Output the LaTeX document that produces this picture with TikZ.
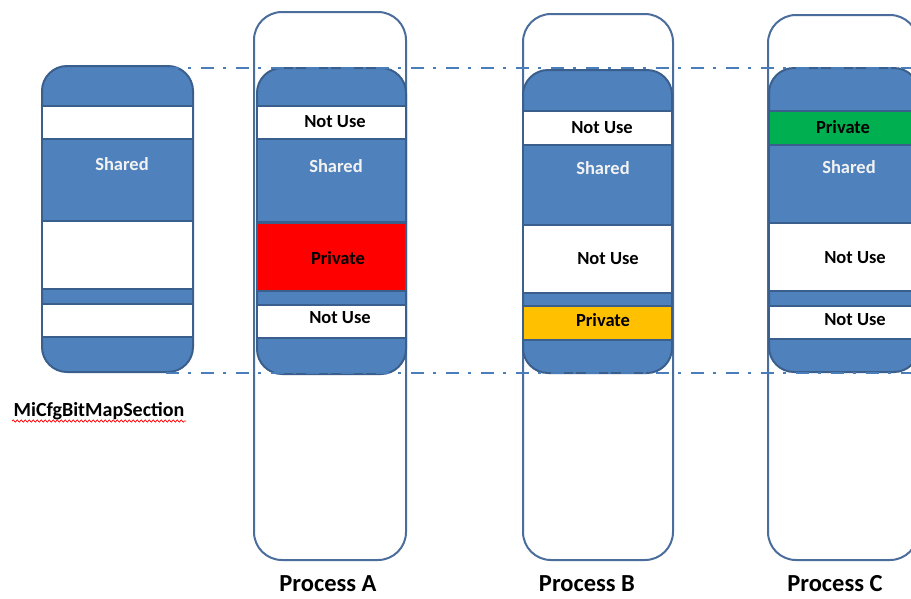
\documentclass[tikz,border=0pt]{standalone}
\usepackage{fontspec}
\setmainfont{Carlito}
\usetikzlibrary{decorations.pathmorphing}
\definecolor{memblue}{HTML}{4F81BD}
\definecolor{memedge}{HTML}{3B5F8D}
\definecolor{procedge}{HTML}{4A6D9C}
\definecolor{dashblue}{HTML}{4A7EBB}
\definecolor{privred}{HTML}{FF0000}
\definecolor{privorange}{HTML}{FFC000}
\definecolor{privgreen}{HTML}{00B050}
\definecolor{sharedtxt}{HTML}{F2F2F2}
\newcommand\rbox[6][]{\node[#2,#1,inner sep=0pt,outer sep=0pt,
  minimum width={(#5-#3)*1pt},minimum height={(#6-#4)*1pt}]
  at ({(#3+#5)/2},{(#4+#6)/2}) {};}
\begin{document}
\begin{tikzpicture}[x=1pt,y=-1pt,
  procbox/.style={draw=procedge,line width=2pt,rounded corners=28pt,fill=white},
  membox/.style={draw=memedge,line width=2pt,fill=memblue,rounded corners=25pt},
  band/.style={draw=memedge,line width=1.8pt},
  lbl/.style={font=\bfseries\fontsize{18.5}{20}\selectfont,inner sep=0pt},
  sharedlbl/.style={lbl,text=sharedtxt},
  title/.style={font=\bfseries\fontsize{24.5}{27}\selectfont,inner sep=0pt,anchor=base,text depth=0pt},
  guide/.style={draw=dashblue,line width=2.4pt,dash pattern=on 13pt off 9pt on 3pt off 10pt}]
\useasboundingbox (0,0) rectangle (911,598);
\clip (0,0) rectangle (911,598);
% ---------- MiCfgBitMapSection ----------
\rbox[name=S]{membox}{42}{66}{193}{372}
\rbox[name=Sw1]{band,fill=white}{42}{106}{193}{139}
\rbox[name=Ssh]{band,fill=memblue}{42}{139}{193}{221}
\rbox[name=Sw2]{band,fill=white}{42}{221}{193}{289}
\rbox[name=Sw3]{band,fill=white}{42}{304}{193}{337}
\node[sharedlbl] (Sshl) at (122,164) {Shared};
\node[font=\bfseries\fontsize{20}{22}\selectfont,inner sep=0pt] (Sname) at (99,411) {MiCfgBitMapSection};
\coordinate (wl) at (12,421);
\coordinate (wr) at (186,421);
\draw[red,line width=0.7pt,decorate,decoration={snake,amplitude=1.1pt,segment length=4pt}] (wl) -- (wr);
% ---------- Process A ----------
\rbox[name=PA]{procbox}{254}{12}{406}{560}
\rbox[name=A]{membox}{257}{68}{406}{374}
\rbox[name=Aw1]{band,fill=white}{257}{106}{406}{139}
\rbox[name=Ash]{band,fill=memblue}{257}{139}{406}{222}
\rbox[name=Apr]{band,fill=privred}{257}{223}{406}{291}
\rbox[name=Aw2]{band,fill=white}{257}{305}{406}{338}
\node[lbl] (Al1) at (335,122) {Not Use};
\node[sharedlbl] (Al2) at (336,166) {Shared};
\node[lbl] (Al3) at (338,258) {Private};
\node[lbl] (Al4) at (340,318) {Not Use};
\node[title] (tA) at (328,591) {Process A};
% ---------- Process B ----------
\rbox[name=PB]{procbox}{523}{14}{673}{560}
\rbox[name=B]{membox}{523}{70}{672}{373}
\rbox[name=Bw1]{band,fill=white}{523}{111}{672}{145}
\rbox[name=Bsh]{band,fill=memblue}{523}{145}{672}{225}
\rbox[name=Bw2]{band,fill=white}{523}{225}{672}{293}
\rbox[name=Bpr]{band,fill=privorange}{523}{306}{672}{340}
\node[lbl] (Bl1) at (602,128) {Not Use};
\node[sharedlbl] (Bl2) at (603,168) {Shared};
\node[lbl] (Bl3) at (608,259) {Not Use};
\node[lbl] (Bl4) at (603,320) {Private};
\node[title] (tB) at (587,591) {Process B};
% ---------- Process C ----------
\rbox[name=PC]{procbox}{768}{15}{918}{560}
\rbox[name=C]{membox}{769}{68}{919}{372}
\rbox[name=Cpr]{band,fill=privgreen}{769}{111}{919}{145}
\rbox[name=Csh]{band,fill=memblue}{769}{145}{919}{223}
\rbox[name=Cw1]{band,fill=white}{769}{223}{919}{291}
\rbox[name=Cw2]{band,fill=white}{769}{306}{919}{339}
\node[lbl] (Cl1) at (843,127) {Private};
\node[sharedlbl] (Cl2) at (849,167) {Shared};
\node[lbl] (Cl3) at (855,258) {Not Use};
\node[lbl] (Cl4) at (855,320) {Not Use};
\node[title] (tC) at (835,591) {Process C};
% ---------- guide lines ----------
\coordinate (gt1) at (166,68);
\coordinate (gt2) at (911,68);
\coordinate (gb1) at (166,373);
\coordinate (gb2) at (911,373);
\draw[guide] (gt1) -- (gt2);
\draw[guide] (gb1) -- (gb2);
\end{tikzpicture}
\end{document}
